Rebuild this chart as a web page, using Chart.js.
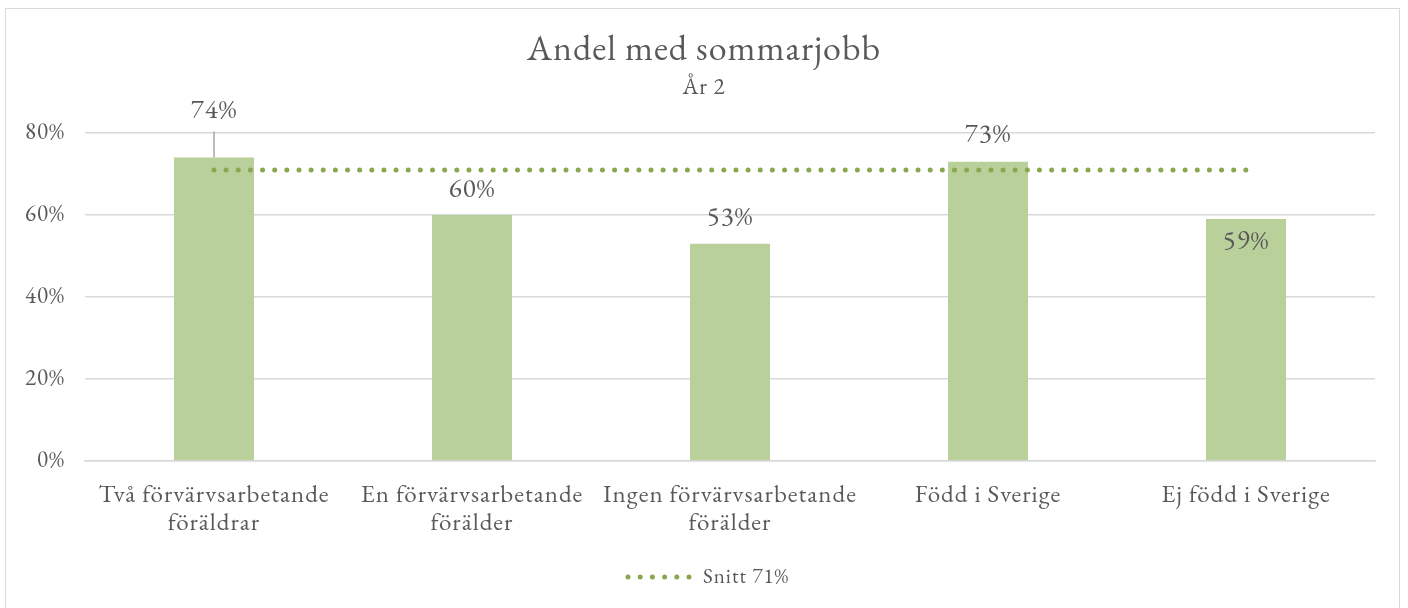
<!DOCTYPE html>
<html lang="sv">
<head>
<meta charset="utf-8">
<title>Andel med sommarjobb</title>
<script src="https://cdn.jsdelivr.net/npm/chart.js@4/dist/chart.umd.min.js"></script>
<style>
  html, body { margin: 0; padding: 0; background: #fff; }
  #wrap { position: relative; width: 1408px; height: 608px; overflow: hidden; }
  #frame { position: absolute; left: 5px; top: 8px; width: 1395px; height: 620px; border: 1px solid #d9d9d9; box-sizing: border-box; pointer-events: none; }
  canvas { position: absolute; left: 0; top: 0; }
</style>
</head>
<body>
<div id="wrap">
  <canvas id="chart" width="1408" height="608"></canvas>
  <div id="frame"></div>
</div>
<script>
const categories = [
  ["Två förvärvsarbetande", "föräldrar"],
  ["En förvärvsarbetande", "förälder"],
  ["Ingen förvärvsarbetande", "förälder"],
  "Född i Sverige",
  "Ej född i Sverige",
];
const shares = [0.74, 0.60, 0.53, 0.73, 0.59];
const average = [0.71, 0.71, 0.71, 0.71, 0.71];
const averageLabel = "Snitt 71%";
const yTicks = [0, 0.2, 0.4, 0.6, 0.8];
const title = "Andel med sommarjobb";
const subtitle = "År 2";

const FONT = "'EB Garamond', Garamond, 'Liberation Serif', serif";
const TEXT = "#595959";
const BAR = "#bad09a";
const LINE = "#8aa74e";
const GRID = "#d9d9d9";

const pct = (v) => Math.round(v * 100) + "%";

// slightly wider text, set before layout so measuring sees it too
const spacing = {
  id: "spacing",
  beforeLayout(chart) { chart.ctx.letterSpacing = "1px"; },
  beforeDraw(chart) { chart.ctx.letterSpacing = "1px"; },
};

// titles, value labels and the legend are drawn by hand
const decorations = {
  id: "decorations",
  afterDatasetsDraw(chart, args, opts) {
    const ctx = chart.ctx;
    const mid = chart.width / 2;
    ctx.save();
    ctx.fillStyle = TEXT;
    ctx.textAlign = "center";
    ctx.textBaseline = "alphabetic";
    ctx.font = `36px ${FONT}`;
    ctx.fillText(title, mid, 60);
    ctx.font = `23px ${FONT}`;
    ctx.fillText(subtitle, mid, 94);

    // value labels on the bars
    const bars = chart.getDatasetMeta(1).data;
    ctx.font = `27px ${FONT}`;
    ctx.textBaseline = "middle";
    bars.forEach((bar, i) => {
      const y = bar.y + opts.labelShift[i];
      if (opts.leader[i]) {
        ctx.strokeStyle = "#a6a6a6";
        ctx.lineWidth = 1.5;
        ctx.beginPath();
        ctx.moveTo(bar.x, bar.y);
        ctx.lineTo(bar.x, y + 21);
        ctx.stroke();
      }
      ctx.fillStyle = TEXT;
      ctx.fillText(pct(shares[i]), bar.x, y);
    });

    // legend for the average line
    const ly = 577;
    ctx.fillStyle = LINE;
    for (let k = 0; k < 6; k++) {
      ctx.beginPath();
      ctx.arc(628 + k * 12.2, ly, 2.5, 0, Math.PI * 2);
      ctx.fill();
    }
    ctx.fillStyle = TEXT;
    ctx.textAlign = "left";
    ctx.font = `21px ${FONT}`;
    ctx.fillText(averageLabel, 703, ly);
    ctx.restore();
  },
};

new Chart(document.getElementById("chart"), {
  type: "bar",
  data: {
    labels: categories,
    datasets: [
      {
        type: "line",
        label: averageLabel,
        data: average,
        borderColor: LINE,
        borderWidth: 5,
        borderDash: [0, 12.139],
        borderCapStyle: "round",
        pointRadius: 0,
        fill: false,
      },
      {
        label: "Andel",
        data: shares,
        backgroundColor: BAR,
        categoryPercentage: 1,
        barPercentage: 0.31,
      },
    ],
  },
  options: {
    responsive: false,
    animation: false,
    layout: { padding: { top: 133, right: 33, bottom: 0, left: 0 } },
    plugins: {
      legend: { display: false },
      tooltip: { enabled: false },
      decorations: {
        labelShift: [-47, -25, -26, -27, 23],
        leader: [true, false, false, false, false],
      },
    },
    scales: {
      x: {
        afterFit: (s) => { s.height = 147; },
        grid: { display: false },
        border: { color: GRID, width: 1.5 },
        ticks: {
          color: TEXT,
          font: { family: FONT, size: 25, lineHeight: "28px" },
          padding: 12,
          maxRotation: 0,
          autoSkip: false,
        },
      },
      y: {
        min: 0,
        max: 0.8,
        afterFit: (s) => { s.width = 85; },
        afterBuildTicks: (s) => { s.ticks = yTicks.map((v) => ({ value: v })); },
        grid: { color: GRID, lineWidth: 1.5, drawTicks: false },
        border: { display: false },
        ticks: {
          color: TEXT,
          font: { family: FONT, size: 23 },
          padding: 20,
          callback: (v) => pct(v),
        },
      },
    },
  },
  plugins: [spacing, decorations],
});
</script>
</body>
</html>
